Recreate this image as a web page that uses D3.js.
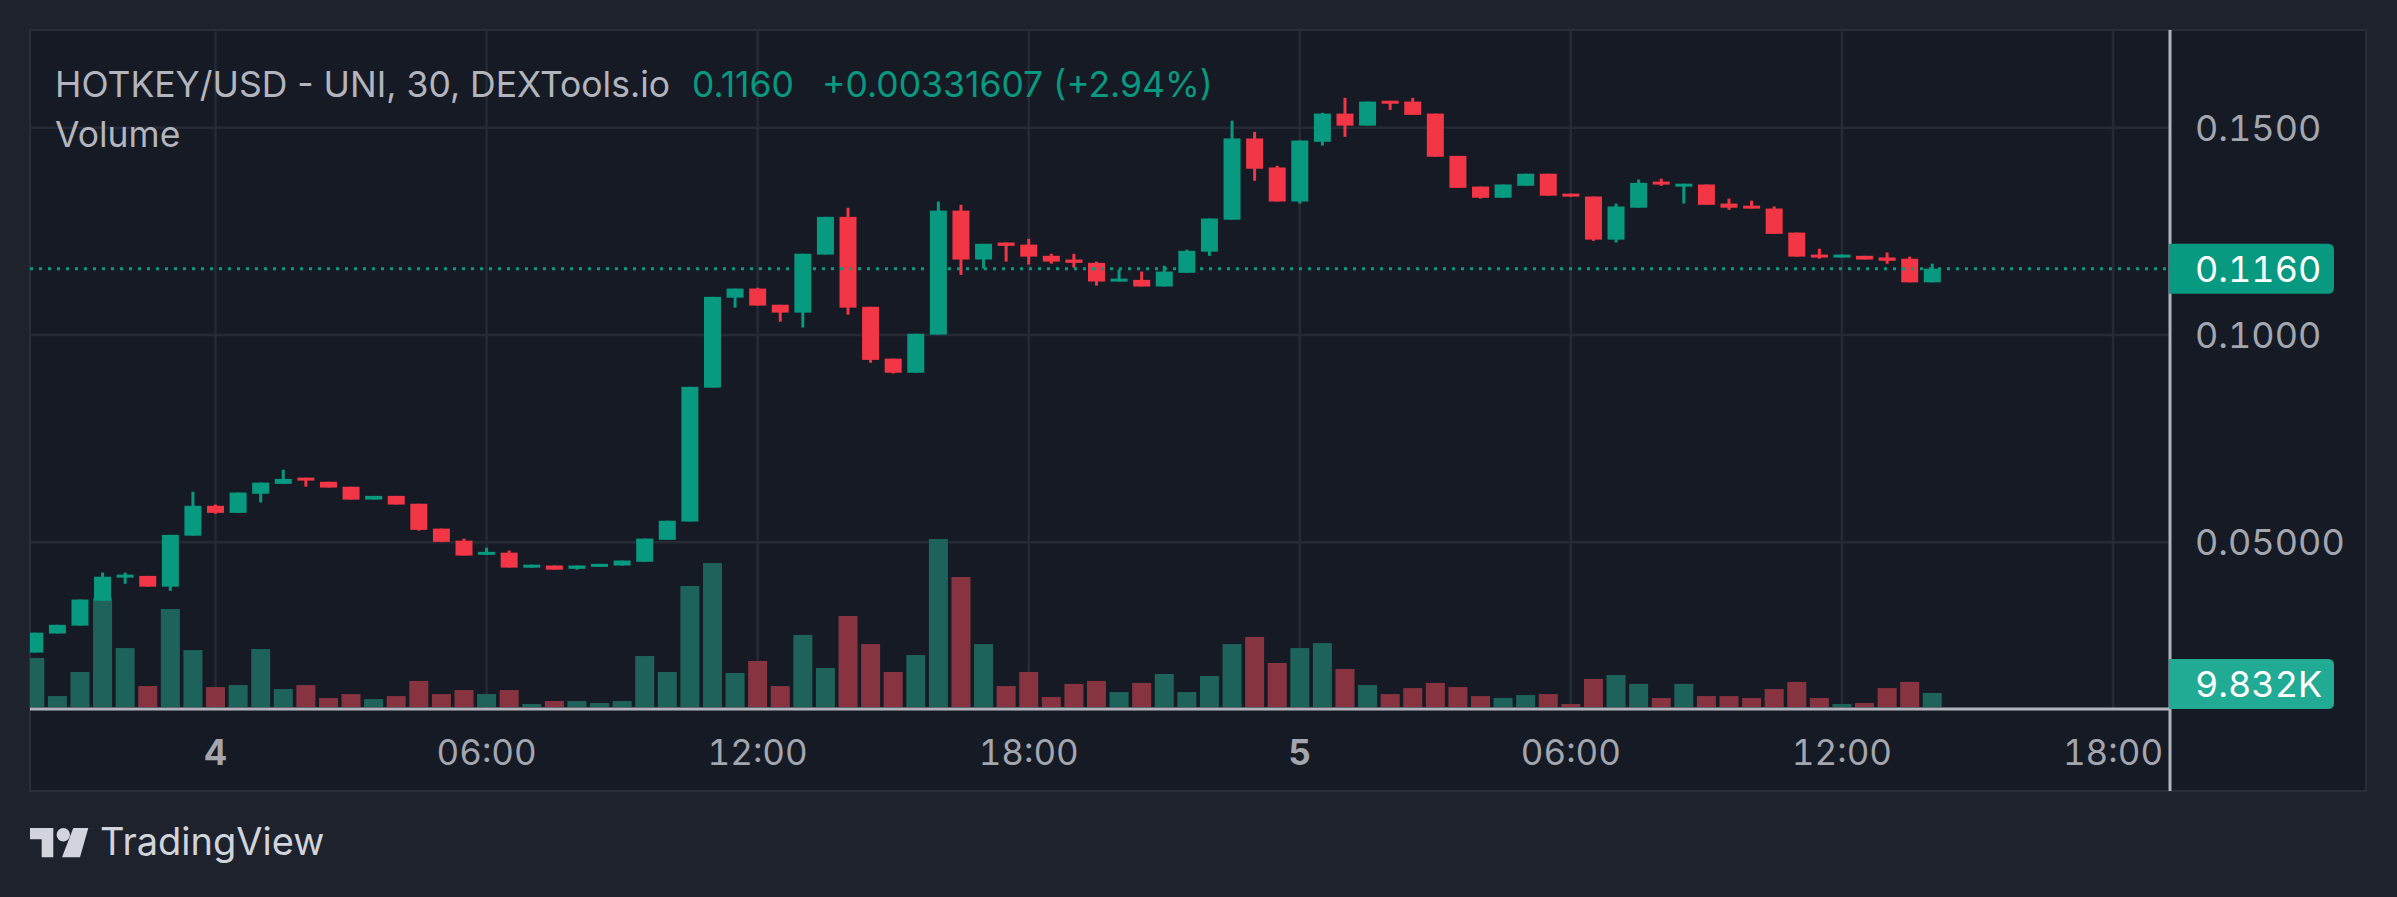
<!DOCTYPE html>
<html>
<head>
<meta charset="utf-8">
<script src="https://cdn.jsdelivr.net/npm/d3@7"></script>
<style>
  html, body { margin: 0; padding: 0; background: #1e222d; }
  svg { display: block; font-family: Inter, Roboto, sans-serif; }
  .tnum { font-feature-settings: "tnum"; }
</style>
</head>
<body>
<div id="chart"></div>
<script>
// HOTKEY/USD 30 min candles, first bar = 20:00 on the 3rd
const startTime = new Date(2024, 0, 3, 20, 0);
const barMinutes = 30;

const opens = [0.0234, 0.0280, 0.0299, 0.0359, 0.0415, 0.0419, 0.0393, 0.0516, 0.0588, 0.0571,
  0.0617, 0.0641, 0.0656, 0.0646, 0.0634, 0.0603, 0.0612, 0.0593, 0.0533, 0.0504,
  0.0470, 0.0475, 0.0439, 0.0444, 0.0436, 0.0441, 0.0444, 0.0453, 0.0506, 0.0550,
  0.0873, 0.1090, 0.1112, 0.1073, 0.1054, 0.1194, 0.1285, 0.1068, 0.0943, 0.0909,
  0.1001, 0.1300, 0.1182, 0.1223, 0.1218, 0.1191, 0.1182, 0.1174, 0.1129, 0.1133,
  0.1117, 0.1150, 0.1201, 0.1278, 0.1474, 0.1404, 0.1322, 0.1466, 0.1534, 0.1505,
  0.1565, 0.1563, 0.1534, 0.1432, 0.1358, 0.1331, 0.1360, 0.1389, 0.1341, 0.1334,
  0.1230, 0.1307, 0.1370, 0.1358, 0.1363, 0.1317, 0.1312, 0.1305, 0.1247, 0.1194,
  0.1187, 0.1191, 0.1187, 0.1184, 0.1127];
const highs = [0.0282, 0.0301, 0.0362, 0.0427, 0.0427, 0.0419, 0.0518, 0.0622, 0.0591, 0.0620,
  0.0644, 0.0675, 0.0656, 0.0646, 0.0634, 0.0612, 0.0612, 0.0593, 0.0533, 0.0509,
  0.0487, 0.0480, 0.0446, 0.0444, 0.0444, 0.0448, 0.0456, 0.0509, 0.0552, 0.0875,
  0.1092, 0.1112, 0.1114, 0.1073, 0.1196, 0.1285, 0.1307, 0.1068, 0.0943, 0.1003,
  0.1322, 0.1314, 0.1220, 0.1223, 0.1232, 0.1196, 0.1196, 0.1177, 0.1158, 0.1153,
  0.1167, 0.1206, 0.1281, 0.1517, 0.1490, 0.1408, 0.1469, 0.1536, 0.1572, 0.1563,
  0.1565, 0.1572, 0.1534, 0.1432, 0.1358, 0.1363, 0.1389, 0.1389, 0.1341, 0.1334,
  0.1317, 0.1375, 0.1377, 0.1365, 0.1363, 0.1329, 0.1324, 0.1310, 0.1247, 0.1208,
  0.1194, 0.1191, 0.1199, 0.1189, 0.1172];
const lows = [0.0234, 0.0280, 0.0299, 0.0359, 0.0400, 0.0393, 0.0383, 0.0516, 0.0569, 0.0571,
  0.0596, 0.0641, 0.0634, 0.0632, 0.0603, 0.0603, 0.0591, 0.0528, 0.0501, 0.0468,
  0.0470, 0.0439, 0.0439, 0.0434, 0.0434, 0.0441, 0.0444, 0.0453, 0.0506, 0.0550,
  0.0873, 0.1066, 0.1071, 0.1032, 0.1018, 0.1194, 0.1049, 0.0933, 0.0907, 0.0909,
  0.1001, 0.1145, 0.1160, 0.1177, 0.1170, 0.1172, 0.1162, 0.1119, 0.1129, 0.1117,
  0.1117, 0.1150, 0.1191, 0.1278, 0.1372, 0.1322, 0.1317, 0.1457, 0.1478, 0.1505,
  0.1543, 0.1531, 0.1430, 0.1355, 0.1329, 0.1331, 0.1360, 0.1336, 0.1334, 0.1227,
  0.1223, 0.1307, 0.1360, 0.1317, 0.1314, 0.1302, 0.1305, 0.1244, 0.1189, 0.1184,
  0.1187, 0.1182, 0.1172, 0.1127, 0.1127];
const closes = [0.0282, 0.0301, 0.0362, 0.0417, 0.0422, 0.0393, 0.0518, 0.0588, 0.0571, 0.0620,
  0.0644, 0.0653, 0.0649, 0.0632, 0.0603, 0.0612, 0.0591, 0.0530, 0.0501, 0.0468,
  0.0477, 0.0439, 0.0446, 0.0434, 0.0444, 0.0448, 0.0456, 0.0509, 0.0552, 0.0875,
  0.1092, 0.1112, 0.1071, 0.1054, 0.1196, 0.1285, 0.1066, 0.0940, 0.0909, 0.1003,
  0.1300, 0.1182, 0.1220, 0.1215, 0.1189, 0.1177, 0.1174, 0.1129, 0.1136, 0.1117,
  0.1153, 0.1203, 0.1281, 0.1474, 0.1401, 0.1322, 0.1469, 0.1534, 0.1505, 0.1563,
  0.1558, 0.1531, 0.1430, 0.1355, 0.1331, 0.1363, 0.1389, 0.1336, 0.1334, 0.1230,
  0.1310, 0.1367, 0.1363, 0.1365, 0.1314, 0.1307, 0.1305, 0.1244, 0.1189, 0.1187,
  0.1194, 0.1182, 0.1179, 0.1127, 0.1160];
// volume in thousands
const volumes = [34.4, 7.7, 24.6, 76.5, 41.4, 14.7, 68.8, 40.0, 14.0, 15.4,
  40.7, 12.6, 15.4, 6.3, 9.1, 5.6, 7.7, 18.3, 9.1, 11.9,
  9.1, 11.9, 2.1, 4.2, 4.2, 2.8, 4.2, 35.8, 24.6, 85.0,
  101.1, 23.9, 32.3, 14.7, 50.6, 27.4, 63.9, 44.2, 24.6, 36.5,
  118.0, 91.3, 44.2, 14.7, 24.6, 7.0, 16.2, 18.3, 10.5, 16.9,
  23.2, 10.5, 21.8, 44.2, 49.2, 30.9, 41.4, 44.9, 26.7, 15.4,
  9.1, 13.3, 16.9, 14.0, 7.7, 6.3, 8.4, 9.1, 2.1, 19.7,
  22.5, 16.2, 6.3, 16.2, 7.7, 7.7, 6.3, 12.6, 17.6, 6.3,
  2.1, 2.8, 13.3, 17.6, 9.832];

const priceTicks = [0.05, 0.10, 0.15];
const titleText = 'HOTKEY/USD - UNI, 30, DEXTools.io';
const lastPriceText = '0.1160';
const changeText = '+0.00331607 (+2.94%)';
const volumeTitle = 'Volume';
const lastVolumeText = '9.832K';

class CandleChart {
  constructor(rows, aims) {
    this.rows = rows;
    this.chartContainer = d3.select(aims);
    this.chart = null;
    this.chartWidth = 2397;
    this.chartHeight = 897;
    this.panel = { left: 30, top: 30, right: 2366, bottom: 791 };
    this.plotRight = 2170;   // price axis line
    this.plotBottom = 709;   // time axis line
    this.upColor = '#089981';
    this.downColor = '#f23645';
    this.timeScale = null;
    this.priceScale = null;
    this.volumeScale = null;
  }

  render() {
    this.createSvg();
    this.initScales();
    this.drawGrid();
    this.drawVolume();
    this.drawCandles();
    this.drawLastPrice();
    this.drawAxes();
    this.drawLegend();
    this.drawLogo();
  }

  createSvg() {
    this.chart = this.chartContainer
      .append('svg')
      .attr('width', this.chartWidth)
      .attr('height', this.chartHeight);

    this.chart.append('rect')
      .attr('width', this.chartWidth)
      .attr('height', this.chartHeight)
      .attr('fill', '#1e222d');

    this.chart.append('rect')
      .attr('x', this.panel.left)
      .attr('y', this.panel.top)
      .attr('width', this.panel.right - this.panel.left)
      .attr('height', this.panel.bottom - this.panel.top)
      .attr('fill', '#161a25')
      .attr('stroke', '#2a2e39')
      .attr('stroke-width', 2);

    this.chart.append('clipPath')
      .attr('id', 'plot-clip')
      .append('rect')
      .attr('x', this.panel.left)
      .attr('y', this.panel.top)
      .attr('width', this.plotRight - this.panel.left)
      .attr('height', this.plotBottom - this.panel.top);
  }

  initScales() {
    let first = this.rows[0].time;
    let last = this.rows[this.rows.length - 1].time;
    this.timeScale = d3.scaleTime().domain([first, last]).range([34.8, 1932.3]);
    this.priceScale = d3.scaleLinear().domain([0.05, 0.15]).range([542.3, 127.7]);
    this.volumeScale = d3.scaleLinear().domain([0, 100]).range([707, 564.6]);
  }

  timeTicks() {
    let from = this.timeScale.invert(this.panel.left);
    let to = this.timeScale.invert(this.plotRight);
    return d3.timeHour.every(6).range(from, to);
  }

  drawGrid() {
    let grid = this.chart.append('g').attr('class', 'c-grid');

    grid.selectAll('.v-line')
      .data(this.timeTicks())
      .enter()
      .append('line')
      .attr('x1', (d) => this.timeScale(d))
      .attr('x2', (d) => this.timeScale(d))
      .attr('y1', this.panel.top)
      .attr('y2', this.plotBottom)
      .attr('stroke', '#262a36')
      .attr('stroke-width', 2.5);

    grid.selectAll('.h-line')
      .data(priceTicks)
      .enter()
      .append('line')
      .attr('x1', this.panel.left)
      .attr('x2', this.plotRight)
      .attr('y1', (d) => this.priceScale(d))
      .attr('y2', (d) => this.priceScale(d))
      .attr('stroke', '#262a36')
      .attr('stroke-width', 2.5);
  }

  drawVolume() {
    this.chart
      .append('g')
      .attr('class', 'c-volume')
      .attr('clip-path', 'url(#plot-clip)')
      .selectAll('rect')
      .data(this.rows)
      .enter()
      .append('rect')
      .attr('x', (d) => this.timeScale(d.time) - 9.5)
      .attr('width', 19)
      .attr('y', (d) => this.volumeScale(d.volume))
      .attr('height', (d) => this.volumeScale(0) - this.volumeScale(d.volume))
      .attr('fill', (d) => d.close >= d.open ? '#1e625c' : '#873440');
  }

  drawCandles() {
    let candles = this.chart
      .append('g')
      .attr('class', 'c-candles')
      .attr('clip-path', 'url(#plot-clip)')
      .selectAll('g')
      .data(this.rows)
      .enter()
      .append('g');

    // wicks
    candles.append('line')
      .attr('x1', (d) => this.timeScale(d.time))
      .attr('x2', (d) => this.timeScale(d.time))
      .attr('y1', (d) => this.priceScale(d.high))
      .attr('y2', (d) => this.priceScale(d.low))
      .attr('stroke', (d) => d.close >= d.open ? this.upColor : this.downColor)
      .attr('stroke-width', 3);

    // bodies
    candles.append('rect')
      .attr('x', (d) => this.timeScale(d.time) - 8.5)
      .attr('width', 17)
      .attr('y', (d) => this.priceScale(Math.max(d.open, d.close)))
      .attr('height', (d) => Math.max(3, Math.abs(this.priceScale(d.open) - this.priceScale(d.close))))
      .attr('fill', (d) => d.close >= d.open ? this.upColor : this.downColor);
  }

  drawLastPrice() {
    let last = this.rows[this.rows.length - 1];
    this.chart.append('line')
      .attr('x1', this.panel.left)
      .attr('x2', this.plotRight)
      .attr('y1', this.priceScale(last.close))
      .attr('y2', this.priceScale(last.close))
      .attr('stroke', this.upColor)
      .attr('stroke-width', 3)
      .style('stroke-dasharray', ('3, 6'));
  }

  drawAxes() {
    // price axis line + time axis line
    this.chart.append('line')
      .attr('x1', this.panel.left).attr('x2', this.plotRight)
      .attr('y1', this.plotBottom).attr('y2', this.plotBottom)
      .attr('stroke', '#b2b5be').attr('stroke-width', 3);

    this.chart.append('line')
      .attr('x1', this.plotRight).attr('x2', this.plotRight)
      .attr('y1', this.panel.top).attr('y2', this.panel.bottom)
      .attr('stroke', '#b2b5be').attr('stroke-width', 3);

    let priceFormat = d3.format('.4r');
    this.chart.append('g')
      .attr('class', 'c-price-labels tnum')
      .selectAll('text')
      .data(priceTicks)
      .enter()
      .append('text')
      .attr('x', 2195)
      .attr('y', (d) => this.priceScale(d))
      .attr('dy', '0.36em')
      .attr('fill', '#a3a6af')
      .attr('font-size', 36)
      .text((d) => priceFormat(d));

    let hourFormat = d3.timeFormat('%H:%M');
    let dayFormat = d3.timeFormat('%-d');
    this.chart.append('g')
      .attr('class', 'c-time-labels tnum')
      .selectAll('text')
      .data(this.timeTicks())
      .enter()
      .append('text')
      .attr('x', (d) => this.timeScale(d))
      .attr('y', 752)
      .attr('dy', '0.36em')
      .attr('text-anchor', 'middle')
      .attr('fill', '#a3a6af')
      .attr('font-size', 35)
      .attr('font-weight', (d) => d.getHours() === 0 ? 700 : 400)
      .text((d) => d.getHours() === 0 ? dayFormat(d) : hourFormat(d));

    // last price tag
    let last = this.rows[this.rows.length - 1];
    let py = this.priceScale(last.close);
    this.drawTag(py, '#089981', lastPriceText);

    // last volume tag, kept inside the pane
    let vy = Math.min(this.volumeScale(last.volume), this.plotBottom - 25);
    this.drawTag(vy, '#22ab94', lastVolumeText);
  }

  drawTag(cy, color, label) {
    let h = 50, x0 = this.plotRight - 1, x1 = 2334, r = 6;
    this.chart.append('path')
      .attr('d', 'M' + x0 + ',' + (cy - h / 2) + 'H' + (x1 - r) +
        'Q' + x1 + ',' + (cy - h / 2) + ' ' + x1 + ',' + (cy - h / 2 + r) +
        'V' + (cy + h / 2 - r) +
        'Q' + x1 + ',' + (cy + h / 2) + ' ' + (x1 - r) + ',' + (cy + h / 2) +
        'H' + x0 + 'Z')
      .attr('fill', color);
    this.chart.append('text')
      .attr('class', 'tnum')
      .attr('x', 2195)
      .attr('y', cy)
      .attr('dy', '0.36em')
      .attr('fill', '#ffffff')
      .attr('font-size', 36)
      .text(label);
  }

  drawLegend() {
    let legend = this.chart.append('text')
      .attr('y', 84)
      .attr('dy', '0.36em')
      .attr('font-size', 35.5);
    legend.append('tspan').attr('x', 55).attr('fill', '#b2b5be').text(titleText);
    legend.append('tspan').attr('x', 692).attr('fill', this.upColor).text(lastPriceText);
    legend.append('tspan').attr('x', 822).attr('fill', this.upColor).text(changeText);

    this.chart.append('text')
      .attr('x', 55)
      .attr('y', 134)
      .attr('dy', '0.36em')
      .attr('font-size', 35.5)
      .attr('fill', '#b2b5be')
      .text(volumeTitle);
  }

  drawLogo() {
    let logo = this.chart.append('g').attr('fill', '#d1d4dc');
    logo.append('path').attr('d', 'M30,828H53.3V857.3H41.7V839.3H30Z');
    logo.append('circle').attr('cx', 63.3).attr('cy', 834.8).attr('r', 6.7);
    logo.append('path').attr('d', 'M73.3,828H88.3L80,857.3H62Z');
    this.chart.append('text')
      .attr('x', 100)
      .attr('y', 855)
      .attr('fill', '#d1d4dc')
      .attr('font-size', 38)
      .text('TradingView');
  }
}

let rows = opens.map((o, i) => ({
  time: d3.timeMinute.offset(startTime, i * barMinutes),
  open: o,
  high: highs[i],
  low: lows[i],
  close: closes[i],
  volume: volumes[i]
}));

let chart = new CandleChart(rows, '#chart');
chart.render();
</script>
</body>
</html>
